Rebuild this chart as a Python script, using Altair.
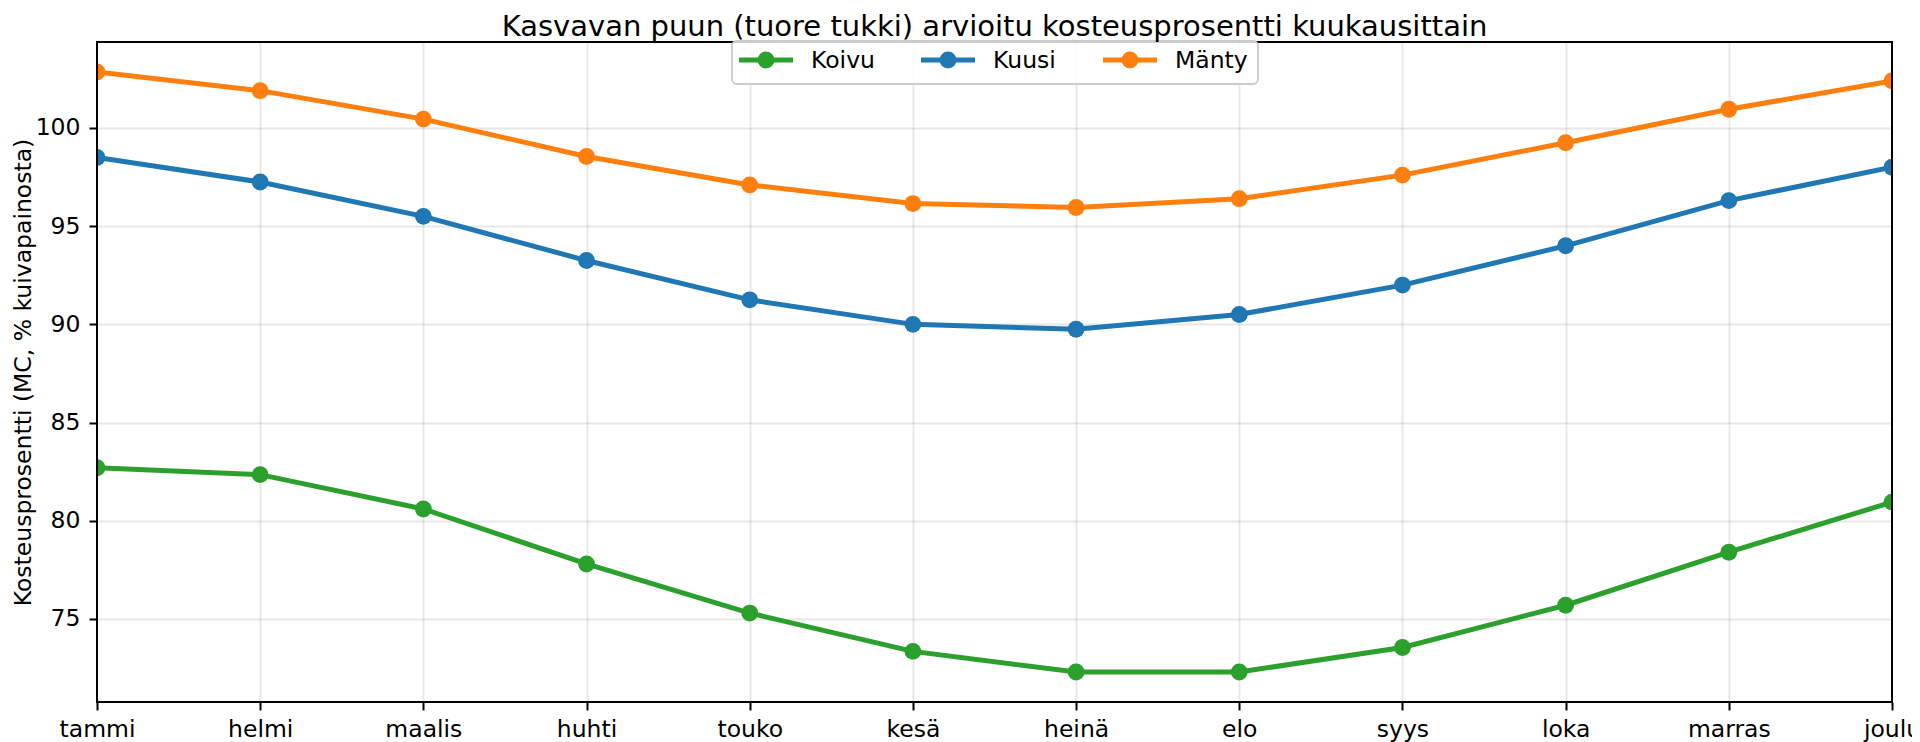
import altair as alt
import pandas as pd

months = ["tammi", "helmi", "maalis", "huhti", "touko", "kesä",
          "heinä", "elo", "syys", "loka", "marras", "joulu"]
koivu = [82.7, 82.35, 80.6, 77.8, 75.3, 73.35, 72.3, 72.3, 73.55, 75.7, 78.4, 80.95]
kuusi = [98.5, 97.25, 95.5, 93.25, 91.25, 90.0, 89.75, 90.5, 92.0, 94.0, 96.3, 98.0]
manty = [102.85, 101.9, 100.45, 98.55, 97.1, 96.15, 95.95, 96.4, 97.6, 99.25, 100.95, 102.4]
series = ["Koivu", "Kuusi", "Mänty"]
colors = ["#2ca02c", "#1f77b4", "#ff7f0e"]
y_ticks = [75, 80, 85, 90, 95, 100]

title_text = "Kasvavan puun (tuore tukki) arvioitu kosteusprosentti kuukausittain"
y_title = "Kosteusprosentti (MC, % kuivapainosta)"

rows = []
for name, vals in zip(series, [koivu, kuusi, manty]):
    for m, v in zip(months, vals):
        rows.append({"kuukausi": m, "laji": name, "mc": v})
df = pd.DataFrame(rows)
legend_df = pd.DataFrame({"laji": series})

all_vals = koivu + kuusi + manty
lo, hi = min(all_vals), max(all_vals)
margin = 0.05 * (hi - lo)
y_domain = [lo - margin, hi + margin]

W, H = 1795, 660
FONT = "DejaVu Sans"

# legend layout (pixels inside the plot area)
LEG_X0, LEG_STEP, LEG_Y = 642, 182, 18
LEG_BOX = (635, 1161, -1, 42)

x_enc = alt.X(
    "kuukausi:N", sort=months,
    scale=alt.Scale(type="point", padding=0),
    axis=alt.Axis(
        title=None, labelAngle=0, labelOverlap=False,
        gridOpacity={"condition": {"test": "datum.index === 0 || datum.index === 1", "value": 0}, "value": 0.3},
    ),
)
y_enc = alt.Y(
    "mc:Q",
    scale=alt.Scale(domain=y_domain, nice=False, zero=False),
    axis=alt.Axis(
        values=y_ticks, title=y_title,
        titleX=-67, titleY=H / 2, titleAngle=-90,
        titleBaseline="alphabetic", titleAlign="center",
    ),
)
color_scale = alt.Scale(domain=series, range=colors)
color_enc = alt.Color("laji:N", scale=color_scale, legend=None)

base = alt.Chart(df).encode(x=x_enc, y=y_enc)

lines = base.mark_line(strokeWidth=5, clip=True).encode(color=color_enc)
points = base.mark_point(filled=True, size=285, opacity=1, clip=True).encode(color=color_enc)

frame = alt.Chart(pd.DataFrame({"f": [0]})).mark_rect(
    fill="transparent", stroke="black", strokeWidth=2
).encode(
    x=alt.value(0), x2=alt.value(W), y=alt.value(0), y2=alt.value(H)
)

title_mark = alt.Chart(pd.DataFrame({"f": [0]})).mark_text(
    text=title_text, font=FONT, fontSize=29, color="black",
    align="center", baseline="alphabetic",
).encode(x=alt.value(W / 2), y=alt.value(-6.5))

# legend built from the series list, coloured through the same colour scale
leg_base = alt.Chart(legend_df).transform_calculate(
    i=f"indexof({series!r}, datum.laji)".replace("'", '"')
).transform_calculate(
    x0=f"{LEG_X0} + datum.i * {LEG_STEP}",
    x1=f"{LEG_X0} + datum.i * {LEG_STEP} + 54",
    xm=f"{LEG_X0} + datum.i * {LEG_STEP} + 27",
    xt=f"{LEG_X0} + datum.i * {LEG_STEP} + 72",
)
leg_box = alt.Chart(pd.DataFrame({"f": [0]})).mark_rect(
    fill="white", fillOpacity=0.8, stroke="#cccccc", strokeWidth=1.9, cornerRadius=5
).encode(
    x=alt.value(LEG_BOX[0]), x2=alt.value(LEG_BOX[1]),
    y=alt.value(LEG_BOX[2]), y2=alt.value(LEG_BOX[3]),
)
leg_line = leg_base.mark_rule(strokeWidth=5).encode(
    x=alt.X("x0:Q", scale=None, axis=None), x2="x1:Q",
    y=alt.value(LEG_Y), color=color_enc,
)
leg_dot = leg_base.mark_point(filled=True, size=285, opacity=1).encode(
    x=alt.X("xm:Q", scale=None, axis=None), y=alt.value(LEG_Y), color=color_enc,
)
leg_text = leg_base.mark_text(
    font=FONT, fontSize=23.5, color="black", align="left", baseline="middle", dy=1
).encode(
    x=alt.X("xt:Q", scale=None, axis=None), y=alt.value(LEG_Y), text="laji:N",
)

chart = alt.layer(
    lines, points, frame, leg_box, leg_line, leg_dot, leg_text, title_mark
).properties(
    width=W, height=H,
    padding={"left": 89, "top": 34, "right": 20, "bottom": 41},
    autosize=alt.AutoSizeParams(type="none"),
).configure_view(
    stroke=None
).configure_axis(
    labelFont=FONT, labelFontSize=23.5, labelColor="black",
    titleFont=FONT, titleFontSize=23.5, titleColor="black", titleFontWeight="normal",
    domain=False, tickColor="black", tickWidth=2, tickSize=8, labelPadding=7,
    grid=True, gridColor="#b0b0b0", gridWidth=1.9,
).configure_axisY(
    gridOpacity=0.3, labelPadding=9,
)

chart.save("out.html", embed_options={"renderer": "svg", "actions": False})
